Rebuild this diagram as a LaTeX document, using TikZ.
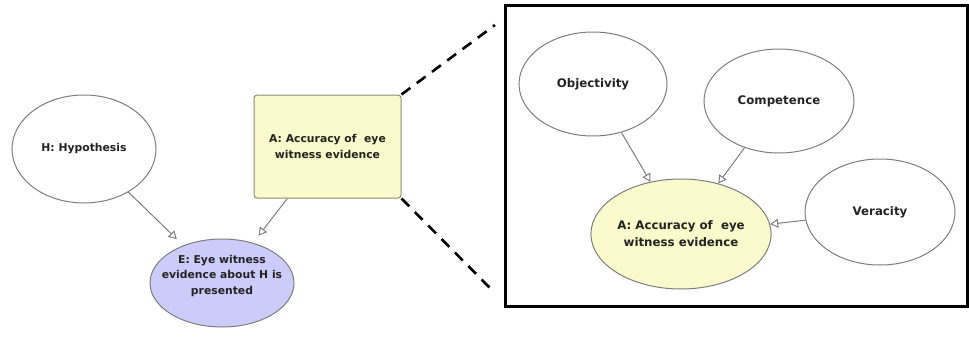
\documentclass[tikz,border=0pt]{standalone}
\usepackage{fontspec}
\setmainfont{DejaVu Sans}
\usetikzlibrary{shapes.geometric,arrows.meta}
\definecolor{nodeyellow}{RGB}{250,250,204}
\definecolor{nodeblue}{RGB}{204,204,250}
\definecolor{edgegray}{RGB}{125,125,125}
\definecolor{rectedge}{RGB}{140,140,110}
\definecolor{textdark}{RGB}{35,35,35}
\tikzset{
  leftfont/.style={font=\fontsize{10.8}{15.5}\selectfont\bfseries, text=textdark, align=center},
  rightfont/.style={font=\fontsize{11.8}{17}\selectfont\bfseries, text=textdark, align=center},
  ell/.style={ellipse, draw=edgegray, line width=1pt, inner sep=0pt, fill=white},
  conn/.style={draw=edgegray, line width=1pt, -{Triangle[fill=white, length=8pt, width=9pt]}},
  zoomline/.style={line width=2.6pt, dash pattern=on 11pt off 8pt},
}
\begin{document}
\begin{tikzpicture}[x=1pt,y=-1pt]
\useasboundingbox (0,0) rectangle (969,340);
% left part
\node[ell, leftfont, minimum width=144pt, minimum height=108pt] (H) at (84,149) {H: Hypothesis};
\node[draw=rectedge, line width=1pt, fill=nodeyellow, rounded corners=3pt, leftfont,
      minimum width=147pt, minimum height=103pt, inner sep=0pt] (Arect) at (327.5,146.5)
      {A: Accuracy of\ \ eye\\witness evidence};
\node[ell, fill=nodeblue, minimum width=144pt, minimum height=88pt,
      label={[leftfont, yshift=7pt, name=Etext]center:E: Eye witness\\evidence about H is\\presented}] (E) at (222,283) {};
\draw[conn, shorten >=9pt] (H) -- (E);
\draw[conn, shorten >=9pt] (Arect) -- (E);
% zoom lines
\coordinate (zt) at (495,25);
\coordinate (zb) at (490,288);
\draw[zoomline] (Arect.north east) -- (zt);
\draw[zoomline] (Arect.south east) -- (zb);
% zoom box
\node[draw, line width=3pt, minimum width=462pt, minimum height=301pt, inner sep=0pt] (box) at (736,155.5) {};
\node[ell, rightfont, minimum width=148pt, minimum height=104pt] (Obj) at (593,84) {Objectivity};
\node[ell, rightfont, minimum width=150pt, minimum height=104pt] (Comp) at (779,101) {Competence};
\node[ell, rightfont, minimum width=150pt, minimum height=106pt] (Ver) at (880,212) {Veracity};
\node[ell, rightfont, fill=nodeyellow, minimum width=160pt, minimum height=110pt] (A) at (681,234) {A: Accuracy of\ \ eye\\witness evidence};
\draw[conn] (Obj) -- (A);
\draw[conn] (Comp) -- (A);
\draw[conn] (Ver) -- (A);
\end{tikzpicture}
\end{document}
